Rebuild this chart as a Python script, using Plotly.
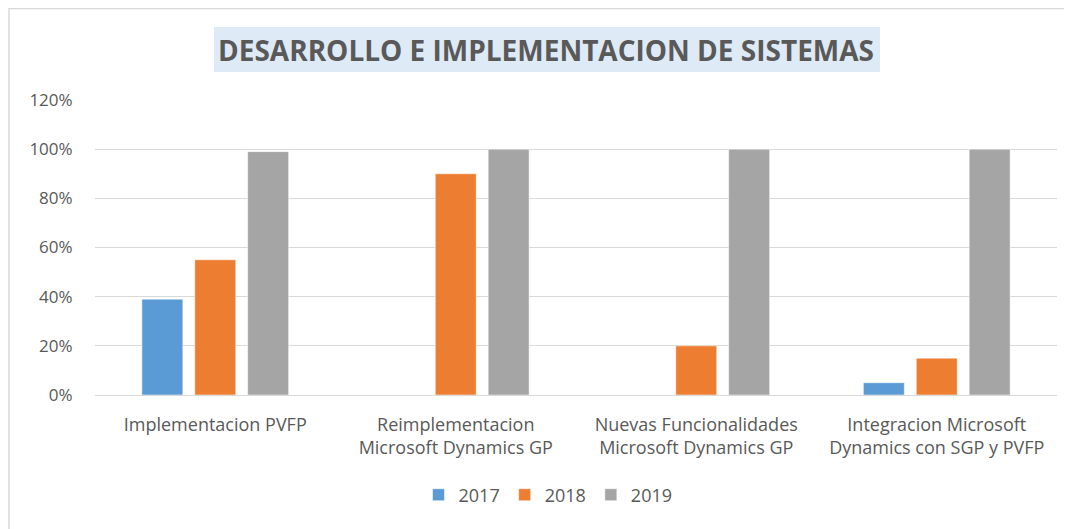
import plotly.graph_objects as go

categories = [
    "Implementacion PVFP",
    "Reimplementacion<br>Microsoft Dynamics GP",
    "Nuevas Funcionalidades<br>Microsoft Dynamics GP",
    "Integracion Microsoft<br>Dynamics con SGP y PVFP",
]
series_names = ["2017", "2018", "2019"]
values_2017 = [0.39, None, None, 0.05]
values_2018 = [0.55, 0.90, 0.20, 0.15]
values_2019 = [0.99, 1.00, 1.00, 1.00]
colors = ["#5B9BD5", "#ED7D31", "#A5A5A5"]
tick_vals = [0, 0.2, 0.4, 0.6, 0.8, 1.0, 1.2]
tick_text = ["0%", "20%", "40%", "60%", "80%", "100%", "120%"]
title_text = "DESARROLLO E IMPLEMENTACION DE SISTEMAS"

OFF = 8  # page body margin
W, H = 1064, 521
L, R, T, B = 87, 15, 92, 134
pw, ph = W - L - R, H - T - B


def px_x(x):  # page x -> paper
    return (x - OFF - L) / pw


def px_y(y):  # page y -> paper
    return (H - B - (y - OFF)) / ph


FONT = "Open Sans, Liberation Sans, sans-serif"

fig = go.Figure()
for name, vals, col in zip(series_names, [values_2017, values_2018, values_2019], colors):
    fig.add_trace(go.Bar(
        x=categories, y=vals, name=name,
        marker=dict(color=col, line=dict(color="rgba(255,255,255,0.5)", width=1)),
    ))

fig.update_layout(
    width=W, height=H,
    margin=dict(l=L, r=R, t=T, b=B),
    paper_bgcolor="white", plot_bgcolor="white",
    barmode="group", bargap=0.34, bargroupgap=0.226,
    font=dict(family=FONT, size=17, color="#595959"),
    showlegend=True,
    legend=dict(orientation="h", x=px_x(548), xanchor="center", y=px_y(495), yanchor="middle",
                font=dict(size=18, color="#595959"), itemwidth=30, tracegroupgap=0),
    xaxis=dict(showline=True, linecolor="#D9D9D9", linewidth=1, showgrid=False,
               tickfont=dict(size=18, color="#595959"), ticks="outside", ticklen=13,
               tickcolor="rgba(0,0,0,0)"),
    yaxis=dict(range=[0, 1.2], tickvals=tick_vals, ticktext=tick_text,
               showgrid=True, gridcolor="#D9D9D9", gridwidth=1, zeroline=False,
               tickfont=dict(size=17, color="#595959"), ticks="outside", ticklen=18,
               tickcolor="rgba(0,0,0,0)"),
    shapes=[
        dict(type="rect", xref="paper", yref="paper",
             x0=px_x(9), x1=px_x(1090), y0=px_y(560), y1=px_y(8.5),
             line=dict(color="#D9D9D9", width=1.5), fillcolor="rgba(0,0,0,0)", layer="below"),
        dict(type="rect", xref="paper", yref="paper",
             x0=px_x(214), x1=px_x(880), y0=px_y(72), y1=px_y(27),
             line=dict(width=0), fillcolor="#DEEAF6", layer="below"),
    ],
    annotations=[
        dict(text="<b>" + title_text + "</b>", xref="paper", yref="paper",
             x=px_x(546), y=px_y(50), xanchor="center", yanchor="middle", showarrow=False,
             font=dict(size=28, color="#595959", family=FONT)),
    ],
)

fig.write_html("out.html")
